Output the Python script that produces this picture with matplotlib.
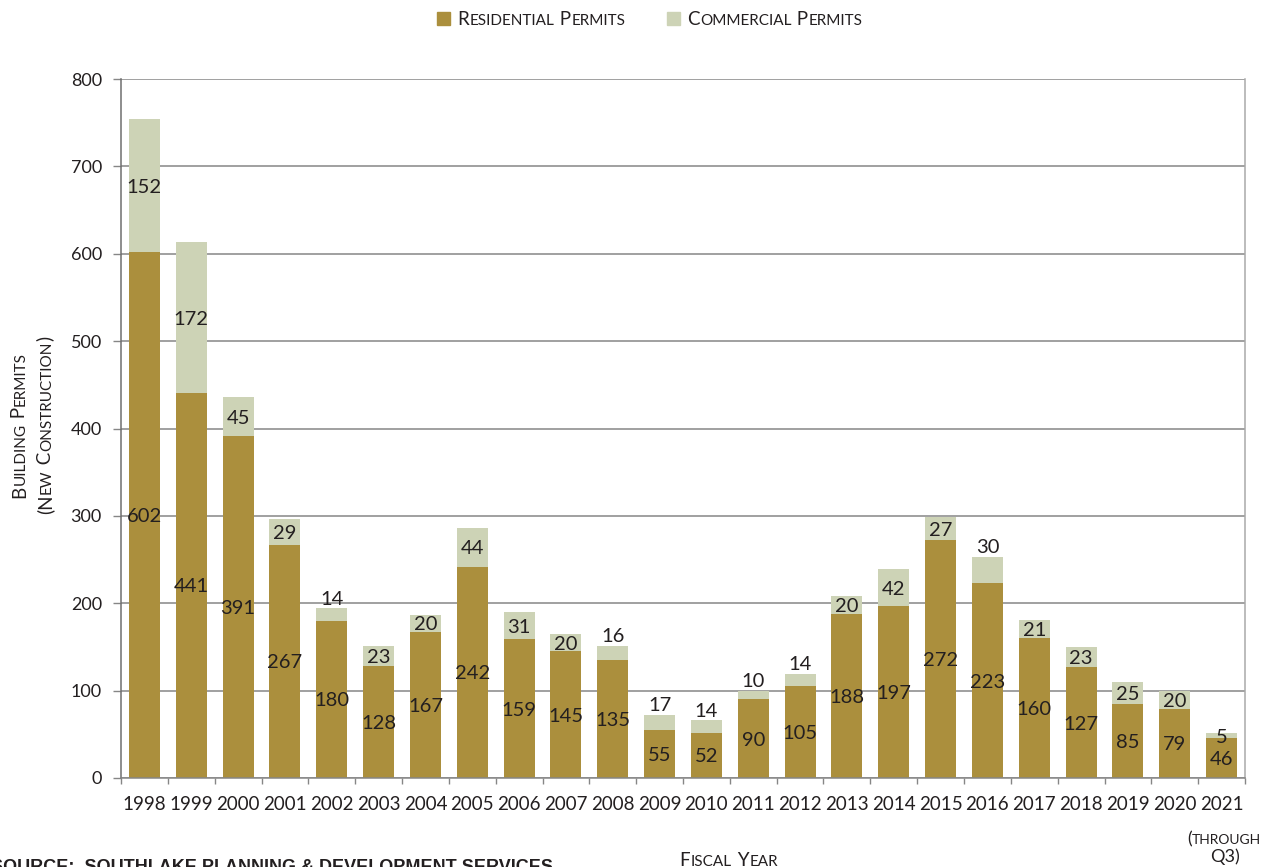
import matplotlib
matplotlib.use("Agg")
import matplotlib.pyplot as plt
from matplotlib.text import Annotation
from matplotlib.patches import Rectangle
import numpy as np

# building permits (new construction) by fiscal year
years = ["1998", "1999", "2000", "2001", "2002", "2003", "2004", "2005",
         "2006", "2007", "2008", "2009", "2010", "2011", "2012", "2013",
         "2014", "2015", "2016", "2017", "2018", "2019", "2020", "2021"]
residential = [602, 441, 391, 267, 180, 128, 167, 242, 159, 145, 135, 55,
               52, 90, 105, 188, 197, 272, 223, 160, 127, 85, 79, 46]
commercial = [152, 172, 45, 29, 14, 23, 20, 44, 31, 20, 16, 17,
              14, 10, 14, 20, 42, 27, 30, 21, 23, 25, 20, 5]
# commercial labels that sit on top of the bar instead of inside
labels_above = ["2002", "2008", "2009", "2010", "2011", "2012", "2016"]

res_color = "#ab8f3d"
com_color = "#cdd3b6"
ink = "#231f20"
grid_grey = "#868686"

plt.rcParams["font.family"] = ["Lato", "DejaVu Sans"]

W, H = 1264, 867
fig = plt.figure(figsize=(W / 100, H / 100), dpi=100)


def fx(px):
    return px / W


def fy(py):
    return 1 - py / H


def small_caps(x, y, text, big, small, rotation=0, center=False, weight="normal"):
    # fake small caps: lowercase letters drawn as smaller capitals
    runs = []
    for ch in text:
        size = small if ch.islower() else big
        if runs and runs[-1][1] == size and ch != " ":
            runs[-1][0] += ch.upper()
        else:
            runs.append([ch.upper(), size])
    arts = []
    gap = 0
    for s, size in runs:
        if s == " ":
            gap += big * 0.26
            continue
        kw = dict(fontsize=size, color=ink, rotation=rotation, weight=weight,
                  rotation_mode="anchor", ha="left", va="baseline")
        if not arts:
            t = fig.text(x, y, s, **kw)
        else:
            prev = arts[-1]
            if rotation:
                xy, coords, off = (x, 1), (fig.transFigure, prev), (0, gap + 0.4)
            else:
                xy, coords, off = (1, y), (prev, fig.transFigure), (gap + 0.4, 0)
            t = Annotation(s, xy=xy, xycoords=coords, xytext=off,
                           textcoords="offset points", **kw)
            fig.add_artist(t)
        arts.append(t)
        gap = 0
    if center:
        r = fig.canvas.get_renderer()
        boxes = [a.get_window_extent(r) for a in arts]
        if rotation:
            span = (max(b.y1 for b in boxes) - min(b.y0 for b in boxes)) / fig.bbox.height
            arts[0].set_position((x, y - span / 2))
        else:
            span = (max(b.x1 for b in boxes) - min(b.x0 for b in boxes)) / fig.bbox.width
            arts[0].set_position((x - span / 2, y))
    return arts


ax = fig.add_axes([fx(121), fy(778), fx(1245) - fx(121), fy(79) - fy(778)])

x = np.arange(len(years))
ax.bar(x, residential, width=0.66, color=res_color, zorder=2)
ax.bar(x, commercial, bottom=residential, width=0.66, color=com_color, zorder=2)

for i, (r, c) in enumerate(zip(residential, commercial)):
    ax.text(i, r / 2, str(r), ha="center", va="center_baseline",
            fontsize=14.5, color=ink, zorder=3)
    if years[i] in labels_above:
        ax.annotate(str(c), (i, r + c), xytext=(0, 0.5), textcoords="offset points",
                    ha="center", va="bottom", fontsize=14.5, color=ink, zorder=3)
    else:
        ax.text(i, r + c / 2, str(c), ha="center", va="center_baseline",
                fontsize=14.5, color=ink, zorder=3)

ax.set_xlim(-0.5, len(years) - 0.5)
ax.set_ylim(0, 800)
ax.set_yticks(range(0, 801, 100))
ax.set_xticks(x, years)
ax.set_xticks(np.arange(-0.5, len(years), 1), minor=True)
ax.yaxis.grid(True, color=grid_grey, lw=1.1)
ax.set_axisbelow(True)

ax.tick_params(axis="x", which="major", length=0, pad=13, labelsize=13.5, labelcolor=ink)
ax.tick_params(axis="x", which="minor", length=4.5, width=1, color=grid_grey)
ax.tick_params(axis="y", length=5.8, width=1, color=grid_grey, pad=8,
               labelsize=13, labelcolor=ink)

ax.spines["top"].set_visible(False)
ax.spines["left"].set_color("#6f6f6f")
ax.spines["bottom"].set_color(grid_grey)
ax.spines["right"].set_color("#a9a9a9")
for s in ["left", "bottom", "right"]:
    ax.spines[s].set_linewidth(1.1)

# legend
fig.add_artist(Rectangle((fx(437), fy(25)), fx(13), 13 / H, transform=fig.transFigure,
                         color=res_color))
fig.add_artist(Rectangle((fx(667), fy(25)), fx(13), 13 / H, transform=fig.transFigure,
                         color=com_color))
small_caps(fx(457), fy(25), "Residential Permits", 13.5, 11)
small_caps(fx(687), fy(25), "Commercial Permits", 13.5, 11)

# axis titles
small_caps(fx(25), fy(425), "Building Permits", 13.5, 11, rotation=90, center=True)
small_caps(fx(51), fy(425), "(New Construction)", 13.5, 11, rotation=90, center=True)
small_caps(fx(729), fy(866), "Fiscal Year", 13.5, 11, center=True)

# note under the last category
small_caps(fx(1224), fy(844), "(through", 12.5, 10, center=True)
fig.text(fx(1225), fy(862), "Q3)", fontsize=13, color=ink, ha="center", va="baseline")

# source line, clipped by the bottom edge as in the original layout
fig.text(fx(-9), fy(872), "SOURCE:  SOUTHLAKE PLANNING & DEVELOPMENT SERVICES",
         fontsize=13, weight="bold", color=ink, ha="left", va="baseline",
         family=["Liberation Sans Narrow", "Liberation Sans", "DejaVu Sans"])

fig.savefig("out.png", dpi=100)
